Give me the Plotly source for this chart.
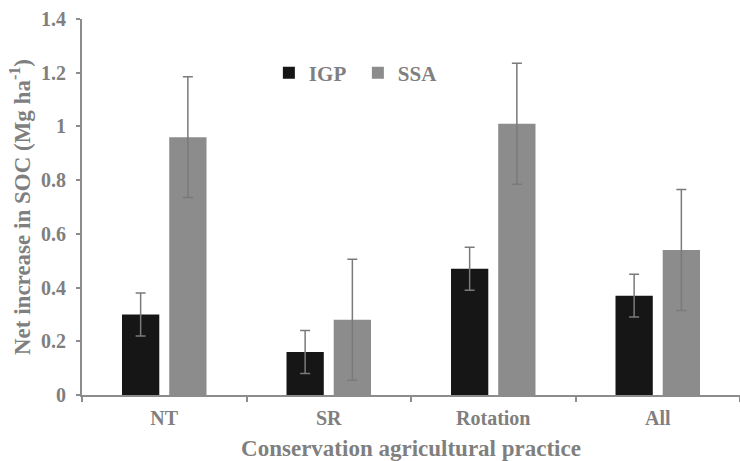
import plotly.graph_objects as go

categories = ["NT", "SR", "Rotation", "All"]
igp_values = [0.30, 0.16, 0.47, 0.37]
igp_errors = [0.08, 0.08, 0.08, 0.08]
ssa_values = [0.96, 0.28, 1.01, 0.54]
ssa_errors = [0.225, 0.225, 0.225, 0.225]
y_ticks = [0, 0.2, 0.4, 0.6, 0.8, 1, 1.2, 1.4]
y_tick_labels = ["0", "0.2", "0.4", "0.6", "0.8", "1", "1.2", "1.4"]

text_color = "#7f7f7f"
axis_color = "#8c8c8c"
font_family = "Liberation Serif, Times New Roman, serif"

fig = go.Figure()
fig.add_trace(go.Bar(
    name="IGP", x=categories, y=igp_values,
    marker=dict(color="#161616", line=dict(width=0)),
    error_y=dict(type="data", array=igp_errors, color="#7a7a7a", thickness=1.5, width=5),
))
fig.add_trace(go.Bar(
    name="SSA", x=categories, y=ssa_values,
    marker=dict(color="#8c8c8c", line=dict(width=0)),
    error_y=dict(type="data", array=ssa_errors, color="#7a7a7a", thickness=1.5, width=5),
))

fig.update_layout(
    width=740, height=461,
    margin=dict(l=82, r=0, t=19, b=66),
    paper_bgcolor="white", plot_bgcolor="white",
    barmode="group", bargap=0.426, bargroupgap=0.21,
    font=dict(family=font_family, color=text_color, size=20, weight="bold"),
    showlegend=True,
    legend=dict(
        orientation="h", x=0.284, y=0.856, xanchor="left", yanchor="middle",
        bgcolor="rgba(0,0,0,0)", font=dict(size=21, color=text_color, weight="bold"),
        entrywidth=44, entrywidthmode="pixels", itemwidth=30,
    ),
    xaxis=dict(
        showline=True, linecolor=axis_color, linewidth=2,
        ticks="outside", tickson="boundaries", ticklen=5, tickcolor=axis_color, tickwidth=2,
        ticklabelstandoff=4,
        tickfont=dict(size=20, color=text_color, weight="bold"),
        title=dict(text="Conservation agricultural practice", standoff=12,
                   font=dict(size=23, color=text_color, weight="bold")),
        showgrid=False, zeroline=False,
    ),
    yaxis=dict(
        range=[0, 1.4], tickvals=y_ticks, ticktext=y_tick_labels,
        showline=True, linecolor=axis_color, linewidth=2,
        ticks="outside", ticklen=4, tickcolor=axis_color, tickwidth=2,
        ticklabelstandoff=6,
        tickfont=dict(size=20, color=text_color, weight="bold"),
        title=dict(text="Net increase in SOC (Mg ha<sup>-1</sup>)", standoff=4,
                   font=dict(size=23, color=text_color, weight="bold")),
        showgrid=False, zeroline=False,
    ),
)

fig.write_html("out.html", config={"displayModeBar": False},
               post_script="document.body.style.margin='0px';")
